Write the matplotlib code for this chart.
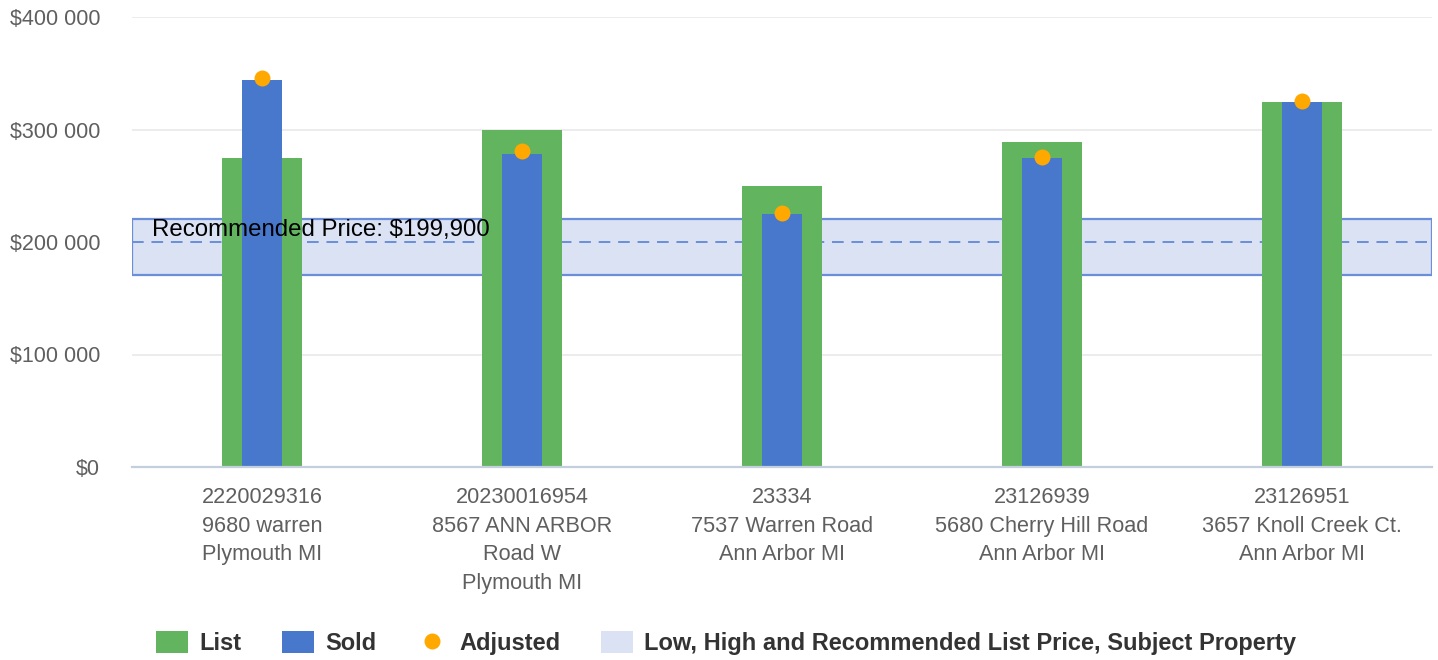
import matplotlib.pyplot as plt
from matplotlib.patches import Patch
from matplotlib.lines import Line2D
from matplotlib.ticker import FuncFormatter
import numpy as np

plt.rcParams["font.family"] = ["Liberation Sans", "DejaVu Sans"]

# comparable properties
mls_ids = ["2220029316", "20230016954", "23334", "23126939", "23126951"]
streets = ["9680 warren", "8567 ANN ARBOR\nRoad W", "7537 Warren Road",
           "5680 Cherry Hill Road", "3657 Knoll Creek Ct."]
cities = ["Plymouth MI", "Plymouth MI", "Ann Arbor MI", "Ann Arbor MI", "Ann Arbor MI"]

list_price = [274500, 299900, 249900, 288900, 324500]
sold_price = [344000, 278000, 224900, 274500, 324500]
adjusted_price = [345800, 280900, 225800, 275600, 325700]

# subject property range
low_price = 170500
high_price = 220800
recommended_price = 199900

GREEN = "#63b45f"
BLUE = "#4878cc"
ORANGE = "#ffa800"
BAND = "#dae2f4"
BAND_EDGE = "#6a8fd8"
TEXT_GRAY = "#5f5f5f"

labels = [f"{m}\n{s}\n{c}" for m, s, c in zip(mls_ids, streets, cities)]
x = np.arange(len(labels))

fig = plt.figure(figsize=(14.38, 6.6), dpi=100)
ax = fig.add_axes([132 / 1438, 193 / 660, 1300 / 1438, 450 / 660])

ax.axhspan(low_price, high_price, facecolor=BAND, edgecolor=BAND_EDGE,
           linewidth=1.6, zorder=1)
ax.axhline(recommended_price, color=BAND_EDGE, linewidth=1.4,
           linestyle=(0, (6, 4)), zorder=1.5)

ax.bar(x, list_price, width=0.308, color=GREEN, zorder=2)
ax.bar(x, sold_price, width=0.154, color=BLUE, zorder=3)
ax.plot(x, adjusted_price, "o", color=ORANGE, markersize=11.5,
        markeredgewidth=0, zorder=4)

ax.text(0.015, high_price, f"Recommended Price: ${recommended_price:,}",
        transform=ax.get_yaxis_transform(), fontsize=17.3, color="black",
        va="top", ha="left", zorder=5)

ax.set_xlim(-0.5, len(labels) - 0.5)
ax.set_ylim(0, 400000)
ax.set_yticks(np.arange(0, 400001, 100000))
ax.yaxis.set_major_formatter(FuncFormatter(
    lambda v, pos: "$" + f"{int(v):,}".replace(",", " ")))
ax.set_xticks(x)
ax.set_xticklabels(labels, fontsize=15.6, color=TEXT_GRAY, linespacing=1.47)
ax.tick_params(axis="y", labelsize=15.5, labelcolor=TEXT_GRAY, length=0, pad=23)
ax.tick_params(axis="x", length=0, pad=14.5)

ax.grid(axis="y", color="#ebebeb", linewidth=1.3, zorder=0)
ax.set_axisbelow(True)
for side in ["top", "right", "left"]:
    ax.spines[side].set_visible(False)
ax.spines["bottom"].set_color("#c3cfdc")
ax.spines["bottom"].set_linewidth(1.6)
ax.spines["bottom"].set_zorder(3.5)

handles = [
    Patch(facecolor=GREEN, label="List"),
    Patch(facecolor=BLUE, label="Sold"),
    Line2D([], [], marker="o", linestyle="none", color=ORANGE,
           markersize=11.5, markeredgewidth=0, label="Adjusted"),
    Patch(facecolor=BAND, label="Low, High and Recommended List Price, Subject Property"),
]
leg = fig.legend(handles=handles, loc="center", bbox_to_anchor=(0.505, 17 / 660),
                 ncol=4, frameon=False, handlelength=1.36, handleheight=1.02,
                 handletextpad=0.47, columnspacing=1.7,
                 prop={"weight": "bold", "size": 17})
for t in leg.get_texts():
    t.set_color("#333333")

fig.savefig("out.png", dpi=100)
